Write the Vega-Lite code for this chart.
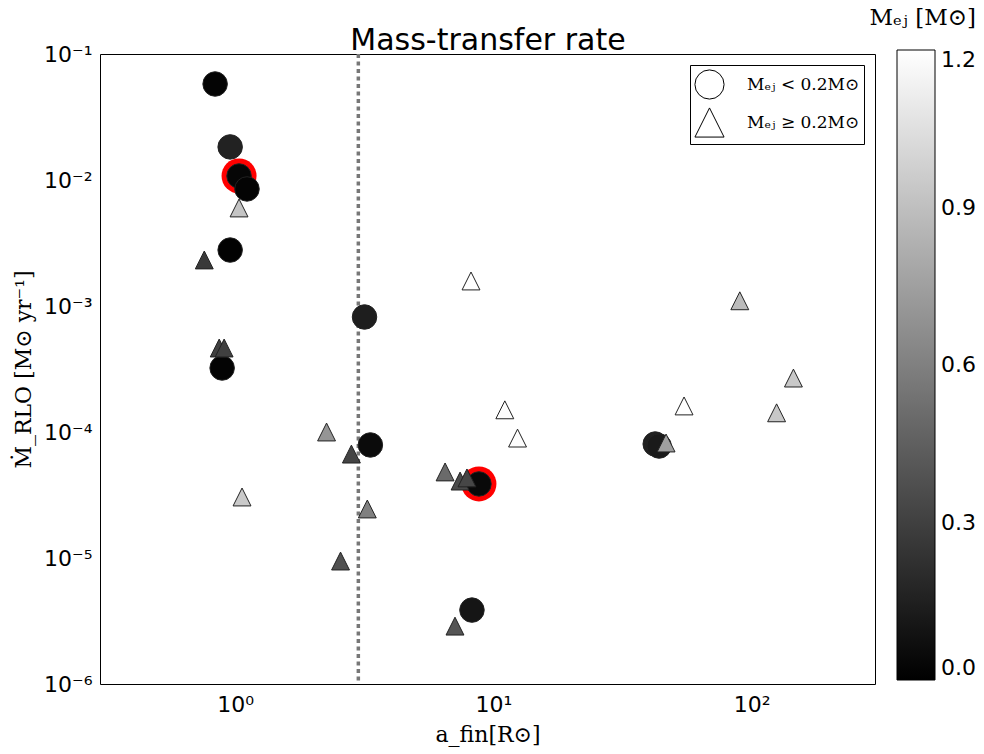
{
  "$schema": "https://vega.github.io/schema/vega-lite/v6.json",
  "width": 775,
  "height": 630,
  "autosize": {"type": "none"},
  "padding": {"left": 100, "top": 54, "right": 109, "bottom": 70},
  "background": "white",
  "datasets": {
    "vline": [{"a": 3}],
    "points": [
      {"a": 0.837, "mdot": 0.0578, "mej": 0.02, "type": "lt", "ring": false},
      {"a": 0.957, "mdot": 0.0183, "mej": 0.16, "type": "lt", "ring": false},
      {"a": 1.036, "mdot": 0.01076, "mej": 0.03, "type": "lt", "ring": true},
      {"a": 1.112, "mdot": 0.00849, "mej": 0.02, "type": "lt", "ring": false},
      {"a": 0.957, "mdot": 0.00278, "mej": 0.01, "type": "lt", "ring": false},
      {"a": 0.891, "mdot": 0.000322, "mej": 0.02, "type": "lt", "ring": false},
      {"a": 3.17, "mdot": 0.000818, "mej": 0.14, "type": "lt", "ring": false},
      {"a": 3.34, "mdot": 0.0000789, "mej": 0.05, "type": "lt", "ring": false},
      {"a": 8.79, "mdot": 0.0000387, "mej": 0.04, "type": "lt", "ring": true},
      {"a": 8.26, "mdot": 0.00000386, "mej": 0.1, "type": "lt", "ring": false},
      {"a": 42.3, "mdot": 0.0000803, "mej": 0.15, "type": "lt", "ring": false},
      {"a": 43.8, "mdot": 0.0000774, "mej": 0.12, "type": "lt", "ring": false},
      {"a": 1.036, "mdot": 0.006, "mej": 0.92, "type": "ge", "ring": false},
      {"a": 0.76, "mdot": 0.00232, "mej": 0.27, "type": "ge", "ring": false},
      {"a": 0.868, "mdot": 0.000464, "mej": 0.3, "type": "ge", "ring": false},
      {"a": 0.907, "mdot": 0.000464, "mej": 0.3, "type": "ge", "ring": false},
      {"a": 1.064, "mdot": 0.0000305, "mej": 0.95, "type": "ge", "ring": false},
      {"a": 2.26, "mdot": 0.0001, "mej": 0.7, "type": "ge", "ring": false},
      {"a": 2.82, "mdot": 0.0000668, "mej": 0.32, "type": "ge", "ring": false},
      {"a": 3.25, "mdot": 0.0000245, "mej": 0.6, "type": "ge", "ring": false},
      {"a": 2.56, "mdot": 0.00000946, "mej": 0.38, "type": "ge", "ring": false},
      {"a": 8.19, "mdot": 0.00158, "mej": 1.2, "type": "ge", "ring": false},
      {"a": 11.07, "mdot": 0.00015, "mej": 1.19, "type": "ge", "ring": false},
      {"a": 12.4, "mdot": 0.0000895, "mej": 1.19, "type": "ge", "ring": false},
      {"a": 6.5, "mdot": 0.0000482, "mej": 0.5, "type": "ge", "ring": false},
      {"a": 7.43, "mdot": 0.0000408, "mej": 0.35, "type": "ge", "ring": false},
      {"a": 7.9, "mdot": 0.0000432, "mej": 0.33, "type": "ge", "ring": false},
      {"a": 7.1, "mdot": 0.00000288, "mej": 0.4, "type": "ge", "ring": false},
      {"a": 89.9, "mdot": 0.0011, "mej": 0.88, "type": "ge", "ring": false},
      {"a": 145, "mdot": 0.000268, "mej": 0.94, "type": "ge", "ring": false},
      {"a": 54.7, "mdot": 0.000161, "mej": 1.2, "type": "ge", "ring": false},
      {"a": 124.8, "mdot": 0.000142, "mej": 0.94, "type": "ge", "ring": false},
      {"a": 46.6, "mdot": 0.0000818, "mej": 0.75, "type": "ge", "ring": false}
    ]
  },
  "resolve": {"scale": {"x": "independent", "y": "independent"}, "axis": {"x": "independent", "y": "independent"}},
  "layer": [
    {
      "data": {"name": "vline"},
      "mark": {"type": "rule", "strokeDash": [4, 3.5], "strokeWidth": 3.5, "color": "#777777"},
      "encoding": {
        "x": {"field": "a", "type": "quantitative", "scale": {"type": "log", "domain": [0.3, 300], "nice": false}, "axis": null}
      }
    },
    {
      "data": {"name": "points"},
      "transform": [{"filter": "datum.ring"}],
      "mark": {"type": "circle", "size": 1225, "color": "#ff0000", "opacity": 1},
      "encoding": {
        "x": {"field": "a", "type": "quantitative", "scale": {"type": "log", "domain": [0.3, 300], "nice": false},
          "axis": {"orient": "bottom", "values": [0.3,0.4,0.5,0.6,0.7,0.8,0.9,1,2,3,4,5,6,7,8,9,10,20,30,40,50,60,70,80,90,100,200,300],
            "labelExpr": "datum.value == 1 ? '10⁰' : datum.value == 10 ? '10¹' : datum.value == 100 ? '10²' : ''",
            "tickSize": 0, "tickColor": "black", "tickWidth": 1, "labelFontSize": 22, "labelFont": "DejaVu Sans", "labelColor": "black", "labelPadding": 10,
            "labelOverlap": false, "labelFlush": false, "domain": false, "grid": false,
            "title": "a_fin[R⊙]", "titleFont": "DejaVu Serif", "titleFontSize": 22, "titleFontWeight": "normal", "titleColor": "black", "titlePadding": 9,
            "encode": {"ticks": {"update": {"y2": {"signal": "(datum.value == 1 || datum.value == 10 || datum.value == 100) ? -8 : -4"}}}}}
        },
        "y": {"field": "mdot", "type": "quantitative", "scale": {"type": "log", "domain": [0.000001, 0.1], "nice": false},
          "axis": {"orient": "left", "values": [1e-6,2e-6,3e-6,4e-6,5e-6,6e-6,7e-6,8e-6,9e-6,1e-5,2e-5,3e-5,4e-5,5e-5,6e-5,7e-5,8e-5,9e-5,1e-4,2e-4,3e-4,4e-4,5e-4,6e-4,7e-4,8e-4,9e-4,1e-3,2e-3,3e-3,4e-3,5e-3,6e-3,7e-3,8e-3,9e-3,1e-2,2e-2,3e-2,4e-2,5e-2,6e-2,7e-2,8e-2,9e-2,1e-1],
            "labelExpr": "abs(log(datum.value)/LN10 - round(log(datum.value)/LN10)) > 0.01 ? '' : '10' + ['⁻⁶','⁻⁵','⁻⁴','⁻³','⁻²','⁻¹'][round(log(datum.value)/LN10) + 6]",
            "tickSize": 0, "tickColor": "black", "tickWidth": 1, "labelFontSize": 22, "labelFont": "DejaVu Sans", "labelColor": "black", "labelPadding": 8,
            "labelOverlap": false, "labelFlush": false, "domain": false, "grid": false,
            "title": "Ṁ_RLO [M⊙ yr⁻¹]", "titleFont": "DejaVu Serif", "titleFontSize": 22, "titleFontWeight": "normal", "titleColor": "black", "titlePadding": 8,
            "encode": {"ticks": {"update": {"x2": {"signal": "abs(log(datum.value)/LN10 - round(log(datum.value)/LN10)) < 0.01 ? 8 : 4"}}}}}
        }
      }
    },
    {
      "data": {"name": "points"},
      "mark": {"type": "point", "filled": true, "stroke": "#222222", "strokeWidth": 1, "opacity": 1},
      "encoding": {
        "x": {"field": "a", "type": "quantitative", "scale": {"type": "log", "domain": [0.3, 300], "nice": false},
          "axis": {"orient": "top", "values": [0.3,0.4,0.5,0.6,0.7,0.8,0.9,1,2,3,4,5,6,7,8,9,10,20,30,40,50,60,70,80,90,100,200,300],
            "labels": false, "tickSize": 0, "tickColor": "black", "tickWidth": 1, "domain": false, "grid": false,
            "title": "Mass-transfer rate", "titleFont": "DejaVu Sans", "titleFontSize": 30, "titleFontWeight": "normal", "titleColor": "black",
            "titleBaseline": "alphabetic", "titlePadding": 4,
            "encode": {"ticks": {"update": {"y2": {"signal": "(datum.value == 1 || datum.value == 10 || datum.value == 100) ? 8 : 4"}}}}}
        },
        "y": {"field": "mdot", "type": "quantitative", "scale": {"type": "log", "domain": [0.000001, 0.1], "nice": false},
          "axis": {"orient": "right", "values": [1e-6,2e-6,3e-6,4e-6,5e-6,6e-6,7e-6,8e-6,9e-6,1e-5,2e-5,3e-5,4e-5,5e-5,6e-5,7e-5,8e-5,9e-5,1e-4,2e-4,3e-4,4e-4,5e-4,6e-4,7e-4,8e-4,9e-4,1e-3,2e-3,3e-3,4e-3,5e-3,6e-3,7e-3,8e-3,9e-3,1e-2,2e-2,3e-2,4e-2,5e-2,6e-2,7e-2,8e-2,9e-2,1e-1],
            "labels": false, "tickSize": 0, "tickColor": "black", "tickWidth": 1, "domain": false, "grid": false, "title": null,
            "encode": {"ticks": {"update": {"x2": {"signal": "abs(log(datum.value)/LN10 - round(log(datum.value)/LN10)) < 0.01 ? -8 : -4"}}}}}
        },
        "color": {"field": "mej", "type": "quantitative",
          "scale": {"domain": [0, 1.2], "range": ["#000000", "#ffffff"], "interpolate": "rgb"},
          "legend": {"orient": "none", "legendX": 769, "legendY": -47, "direction": "vertical", "type": "gradient",
            "gradientLength": 630, "gradientThickness": 38, "gradientStrokeColor": "black", "gradientStrokeWidth": 1,
            "values": [0, 0.3, 0.6, 0.9, 1.2], "format": ".1f", "labelFontSize": 22, "labelFont": "DejaVu Sans", "labelColor": "black", "labelOffset": 6,
            "labelOverlap": false,
            "title": "Mₑⱼ [M⊙]", "titleFont": "DejaVu Serif", "titleFontSize": 23, "titleFontWeight": "normal", "titleColor": "black",
            "titlePadding": 20, "titleAnchor": "end", "padding": 0}
        },
        "shape": {"field": "type", "type": "nominal",
          "scale": {"domain": ["lt", "ge"], "range": ["circle", "M0,-1L-1,1L1,1Z"]},
          "legend": {"orient": "top-right", "offset": 11, "title": null, "strokeColor": "black", "fillColor": "white", "padding": 4, "cornerRadius": 0,
            "symbolSize": 850, "symbolFillColor": "white", "symbolStrokeColor": "black", "symbolStrokeWidth": 1,
            "labelExpr": "datum.label == 'lt' ? 'Mₑⱼ < 0.2M⊙' : 'Mₑⱼ ≥ 0.2M⊙'",
            "labelFont": "DejaVu Serif", "labelFontSize": 17, "labelColor": "black", "labelOffset": 22, "rowPadding": 3}
        },
        "size": {"condition": {"test": "datum.type == 'lt'", "value": 600}, "value": 320}
      }
    }
  ],
  "config": {
    "font": "DejaVu Sans",
    "view": {"stroke": "black", "strokeWidth": 1}
  }
}
